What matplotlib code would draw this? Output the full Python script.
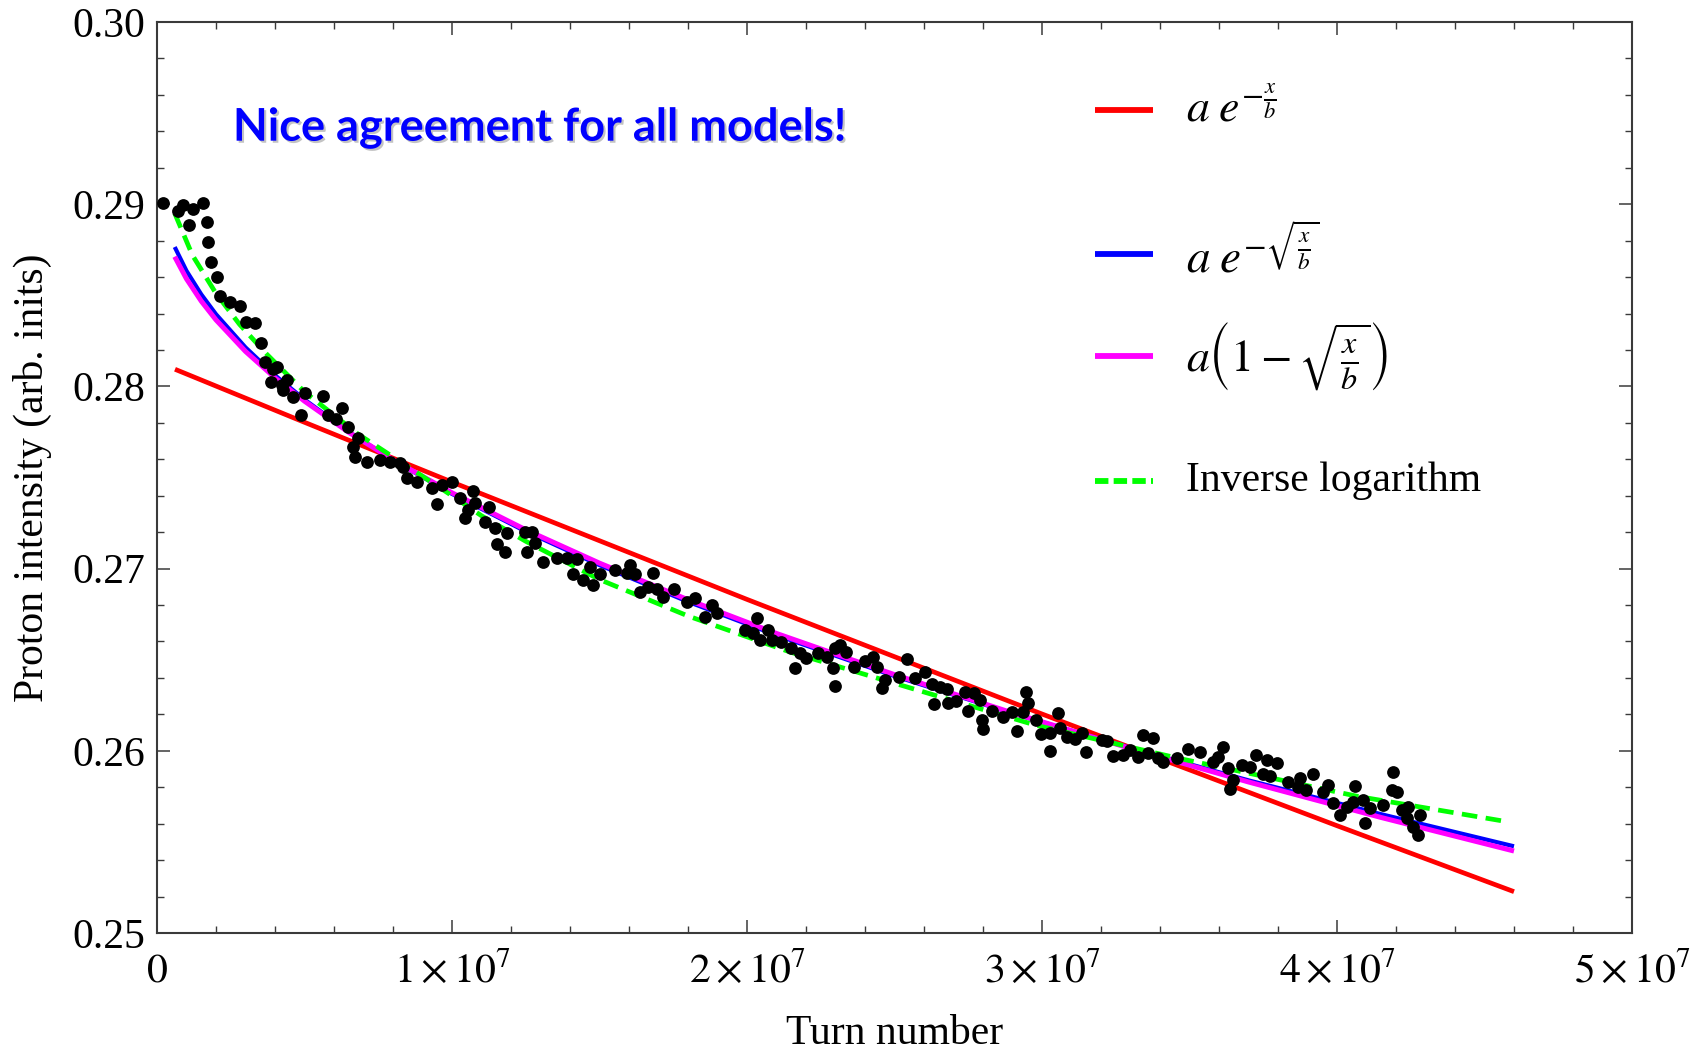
import matplotlib
matplotlib.use('Agg')
import matplotlib.pyplot as plt
from matplotlib.lines import Line2D
from matplotlib.ticker import FixedLocator, MultipleLocator
import matplotlib.patheffects as pe

plt.rcParams['font.family'] = ['Liberation Serif', 'DejaVu Serif']
plt.rcParams['mathtext.fontset'] = 'stix'

TURN_UNIT = 1e6  # x values below are in millions of turns

# ---- measured proton intensity (black points) ----
data_x = [0.19, 0.72, 0.89, 1.23, 1.55, 1.09, 1.68, 1.74, 1.82, 2.02, 2.14, 2.47, 2.81, 3.02, 3.32,
          3.52, 3.66, 3.94, 4.08, 3.85, 4.23, 4.40, 4.28, 4.60, 4.87, 5.02, 5.62, 5.81, 6.07, 6.26,
          6.49, 6.82, 6.65, 6.71, 7.11, 7.56, 7.90, 8.24, 8.46,
          8.35, 8.80, 9.31, 9.65, 9.99, 9.50, 10.27, 10.70, 10.78, 10.55, 10.44, 11.26, 11.12, 11.46,
          11.85, 12.47, 12.70, 11.52, 11.80, 12.81, 12.53, 13.10, 13.55, 13.89, 14.23, 14.11, 14.43,
          14.77, 14.68, 15.02, 15.52, 16.03, 15.92, 16.20, 16.80, 16.37, 16.65, 16.94, 17.16, 17.53,
          17.95, 18.24, 18.80, 18.58, 18.97, 20.33,
          19.93, 20.19, 20.45, 20.71, 20.84, 21.16, 21.49, 21.62, 21.81, 22.01, 22.39, 22.72,
          22.98, 23.15, 23.36, 22.93, 22.98, 23.63, 24.00, 24.26, 24.40, 24.68, 24.57, 25.16, 25.41,
          25.69, 26.03, 26.26, 26.54, 26.77, 26.34, 26.82, 27.08, 27.39, 27.69, 27.90, 27.50, 27.95,
          28.01, 28.29, 28.69, 28.97, 29.46, 29.54, 29.37, 29.14, 29.80, 29.96, 30.27, 30.55, 30.61,
          30.27, 30.84, 31.12, 31.35, 31.49, 32.02, 32.19, 32.42, 32.76, 32.98, 33.26, 33.43, 33.75,
          33.60, 33.94, 34.11, 34.56, 34.96, 35.36, 35.81, 36.15, 35.98, 36.77, 37.25, 37.62, 37.95,
          36.32, 36.49, 36.37, 37.05, 37.50, 37.73, 38.35, 38.75, 38.69, 38.95, 39.20, 39.53, 39.70,
          39.87, 40.10, 40.33, 40.61, 40.55, 40.89, 41.12, 40.95, 41.55, 41.89, 41.86, 42.02, 42.19,
          42.42, 42.36, 42.59, 42.76, 42.81]
data_y = [0.29005, 0.28964, 0.28996, 0.28972, 0.29008, 0.28886, 0.28904, 0.28794, 0.28684, 0.28599,
          0.28496, 0.28465, 0.28441, 0.28355, 0.28346, 0.28237, 0.28136, 0.28094, 0.28108, 0.28026,
          0.28008, 0.28035, 0.27980, 0.27940, 0.27843, 0.27962, 0.27947, 0.27843, 0.27819, 0.27880,
          0.27779, 0.27715, 0.27669, 0.27614, 0.27587, 0.27596, 0.27587, 0.27578, 0.27496,
          0.27559, 0.27477, 0.27441, 0.27459, 0.27477, 0.27353, 0.27386, 0.27426, 0.27358, 0.27322,
          0.27276, 0.27336, 0.27257, 0.27221, 0.27194, 0.27203, 0.27203, 0.27135, 0.27093, 0.27139,
          0.27093, 0.27038, 0.27060, 0.27060, 0.27051, 0.26970, 0.26937, 0.26910, 0.27010, 0.26970,
          0.26992, 0.27020, 0.26974, 0.26970, 0.26974, 0.26873, 0.26901, 0.26886, 0.26846, 0.26886,
          0.26818, 0.26837, 0.26800, 0.26736, 0.26755, 0.26727,
          0.26663, 0.26645, 0.26609, 0.26663, 0.26609, 0.26599, 0.26563, 0.26453, 0.26535, 0.26508,
          0.26535, 0.26517,
          0.26563, 0.26581, 0.26544, 0.26453, 0.26356, 0.26458, 0.26493, 0.26513, 0.26458, 0.26389,
          0.26343, 0.26403, 0.26502, 0.26398, 0.26434, 0.26367, 0.26349, 0.26338, 0.26257, 0.26264,
          0.26275, 0.26324, 0.26319, 0.26279, 0.26220, 0.26169, 0.26120, 0.26220, 0.26187, 0.26215,
          0.26324, 0.26261, 0.26215, 0.26110, 0.26169, 0.26092, 0.26096, 0.26206, 0.26123, 0.26001,
          0.26077, 0.26063, 0.26096, 0.25995, 0.26059, 0.26055, 0.25971, 0.25977, 0.26004, 0.25968,
          0.26087, 0.26069, 0.25986, 0.25959, 0.25940, 0.25959, 0.26008, 0.25995, 0.25940, 0.26019,
          0.25968, 0.25922, 0.25977, 0.25949, 0.25935,
          0.25904, 0.25840, 0.25789, 0.25913, 0.25873, 0.25862, 0.25831, 0.25849, 0.25800, 0.25785,
          0.25873, 0.25776, 0.25812, 0.25712, 0.25648, 0.25693, 0.25807, 0.25721, 0.25730, 0.25684,
          0.25605, 0.25703, 0.25885, 0.25785, 0.25776, 0.25675, 0.25693, 0.25629, 0.25583, 0.25538,
          0.25648]

# ---- fitted model curves ----
exp_x = [0.61, 5.0, 10.0, 20.0, 30.0, 40.0, 46.0]
exp_y = [0.28094, 0.27803, 0.27475, 0.26831, 0.26202, 0.25589, 0.25227]

sqrtexp_x = [0.6, 1.0, 1.5, 2.0, 3.0, 4.0, 5.0, 6.5, 8.0, 10.0, 12.5, 15.0, 18.0, 21.0, 25.0,
             29.0, 33.0, 37.0, 41.5, 46.0]
sqrtexp_y = [0.28765, 0.28634, 0.28505, 0.28396, 0.28214, 0.28061, 0.27928, 0.27751, 0.27595,
             0.27410, 0.27204, 0.27019, 0.26818, 0.26634, 0.26410, 0.26205, 0.26016, 0.25838,
             0.25652, 0.25476]

sqrtlin_x = sqrtexp_x
sqrtlin_y = [0.28712, 0.28590, 0.28468, 0.28365, 0.28192, 0.28047, 0.27919, 0.27748, 0.27597,
             0.27416, 0.27213, 0.27030, 0.26829, 0.26644, 0.26418, 0.26208, 0.26013, 0.25829,
             0.25634, 0.25450]

invlog_x = [0.6, 1.2, 2.0, 2.8, 3.7, 5.0, 6.8, 8.5, 10.0, 11.0, 12.5, 15.0, 18.0, 21.5, 24.6,
            29.8, 34.6, 40.7, 45.8]
invlog_y = [0.2895, 0.2872, 0.2851, 0.2834, 0.2818, 0.2797, 0.2774, 0.2756, 0.2740, 0.2729,
            0.2715, 0.2694, 0.2674, 0.2654, 0.2639, 0.2614, 0.2596, 0.2575, 0.2561]

legend_labels = [r'$a\;e^{-\frac{x}{b}}$',
                 r'$a\;e^{-\sqrt{\frac{x}{b}}}$',
                 r'$a\left(1-\sqrt{\frac{x}{b}}\right)$',
                 'Inverse logarithm']

x_ticks = [0, 1e7, 2e7, 3e7, 4e7, 5e7]
x_tick_labels = [r'$0$', r'$1\times10^{7}$', r'$2\times10^{7}$', r'$3\times10^{7}$',
                 r'$4\times10^{7}$', r'$5\times10^{7}$']
y_ticks = [0.25, 0.26, 0.27, 0.28, 0.29, 0.30]
y_tick_labels = ['0.25', '0.26', '0.27', '0.28', '0.29', '0.30']

annotation = 'Nice agreement for all models!'

# ---------------------------------------------------------------
fig = plt.figure(figsize=(17.03, 10.52), dpi=100)
ax = fig.add_axes([0.0922, 0.1131, 0.8661, 0.8660])

def sc(v):
    return [t * TURN_UNIT for t in v]

l_red, = ax.plot(sc(exp_x), exp_y, color='#ff0000', lw=3.4, solid_capstyle='butt', zorder=2)
l_blue, = ax.plot(sc(sqrtexp_x), sqrtexp_y, color='#0000ff', lw=3.0, solid_capstyle='butt', zorder=2)
l_mag, = ax.plot(sc(sqrtlin_x), sqrtlin_y, color='#ff00ff', lw=3.6, solid_capstyle='butt', zorder=2)
l_grn, = ax.plot(sc(invlog_x), invlog_y, color='#00ff00', lw=3.4, dashes=(3.3, 1.8), zorder=2)
ax.plot(sc(data_x), data_y, 'o', color='black', ms=9.2, mew=0, zorder=3)

ax.set_xlim(0, 5e7)
ax.set_ylim(0.25, 0.30)
ax.xaxis.set_major_locator(FixedLocator(x_ticks))
ax.set_xticklabels(x_tick_labels)
ax.yaxis.set_major_locator(FixedLocator(y_ticks))
ax.set_yticklabels(y_tick_labels)
ax.xaxis.set_minor_locator(MultipleLocator(2e6))
ax.yaxis.set_minor_locator(MultipleLocator(0.002))

edge = '#3a3a3a'
for s in ax.spines.values():
    s.set_color(edge)
    s.set_linewidth(1.5)
ax.tick_params(which='both', direction='in', top=True, right=True, color=edge)
ax.tick_params(which='major', length=9.5, width=1.1, labelsize=30)
ax.tick_params(which='minor', length=5, width=1.0)
ax.tick_params(axis='x', which='major', pad=35)
ax.tick_params(axis='y', which='major', pad=8.6)
for t in ax.xaxis.get_major_ticks():
    t.label1.set_verticalalignment('baseline')

ax.set_xlabel('Turn number', fontsize=30)
ax.xaxis.set_label_coords(0.5, -0.089)
ax.set_ylabel('Proton intensity (arb. inits)', fontsize=30)
ax.yaxis.set_label_coords(-0.0712, 0.5)

# annotation
ax.text(0.0515, 0.8697, annotation, transform=ax.transAxes, family=['Lato', 'DejaVu Sans'],
        fontweight='bold', fontsize=32.5, color='#0000ff', va='baseline', ha='left',
        path_effects=[pe.withSimplePatchShadow(offset=(1.5, -1.5), shadow_rgbFace='#888888', alpha=0.5)])

# legend (no frame, entries at fixed rows)
handles = [l_red, l_blue, l_mag, l_grn]
rows = [0.9034, 0.7453, 0.6334, 0.4962]
sizes = [33, 34, 33, 30]
for h, lab, yy, fs in zip(handles, legend_labels, rows, sizes):
    ln = Line2D([0.636, 0.675], [yy, yy], transform=ax.transAxes, color=h.get_color(),
                lw=4.2, solid_capstyle='butt')
    if h is l_grn:
        ln.set_dashes((2.3, 0.9))
    ax.add_line(ln)
    ax.text(0.6976, yy, lab, transform=ax.transAxes, fontsize=fs, va='center', ha='left')

fig.savefig('out.png', dpi=100)
